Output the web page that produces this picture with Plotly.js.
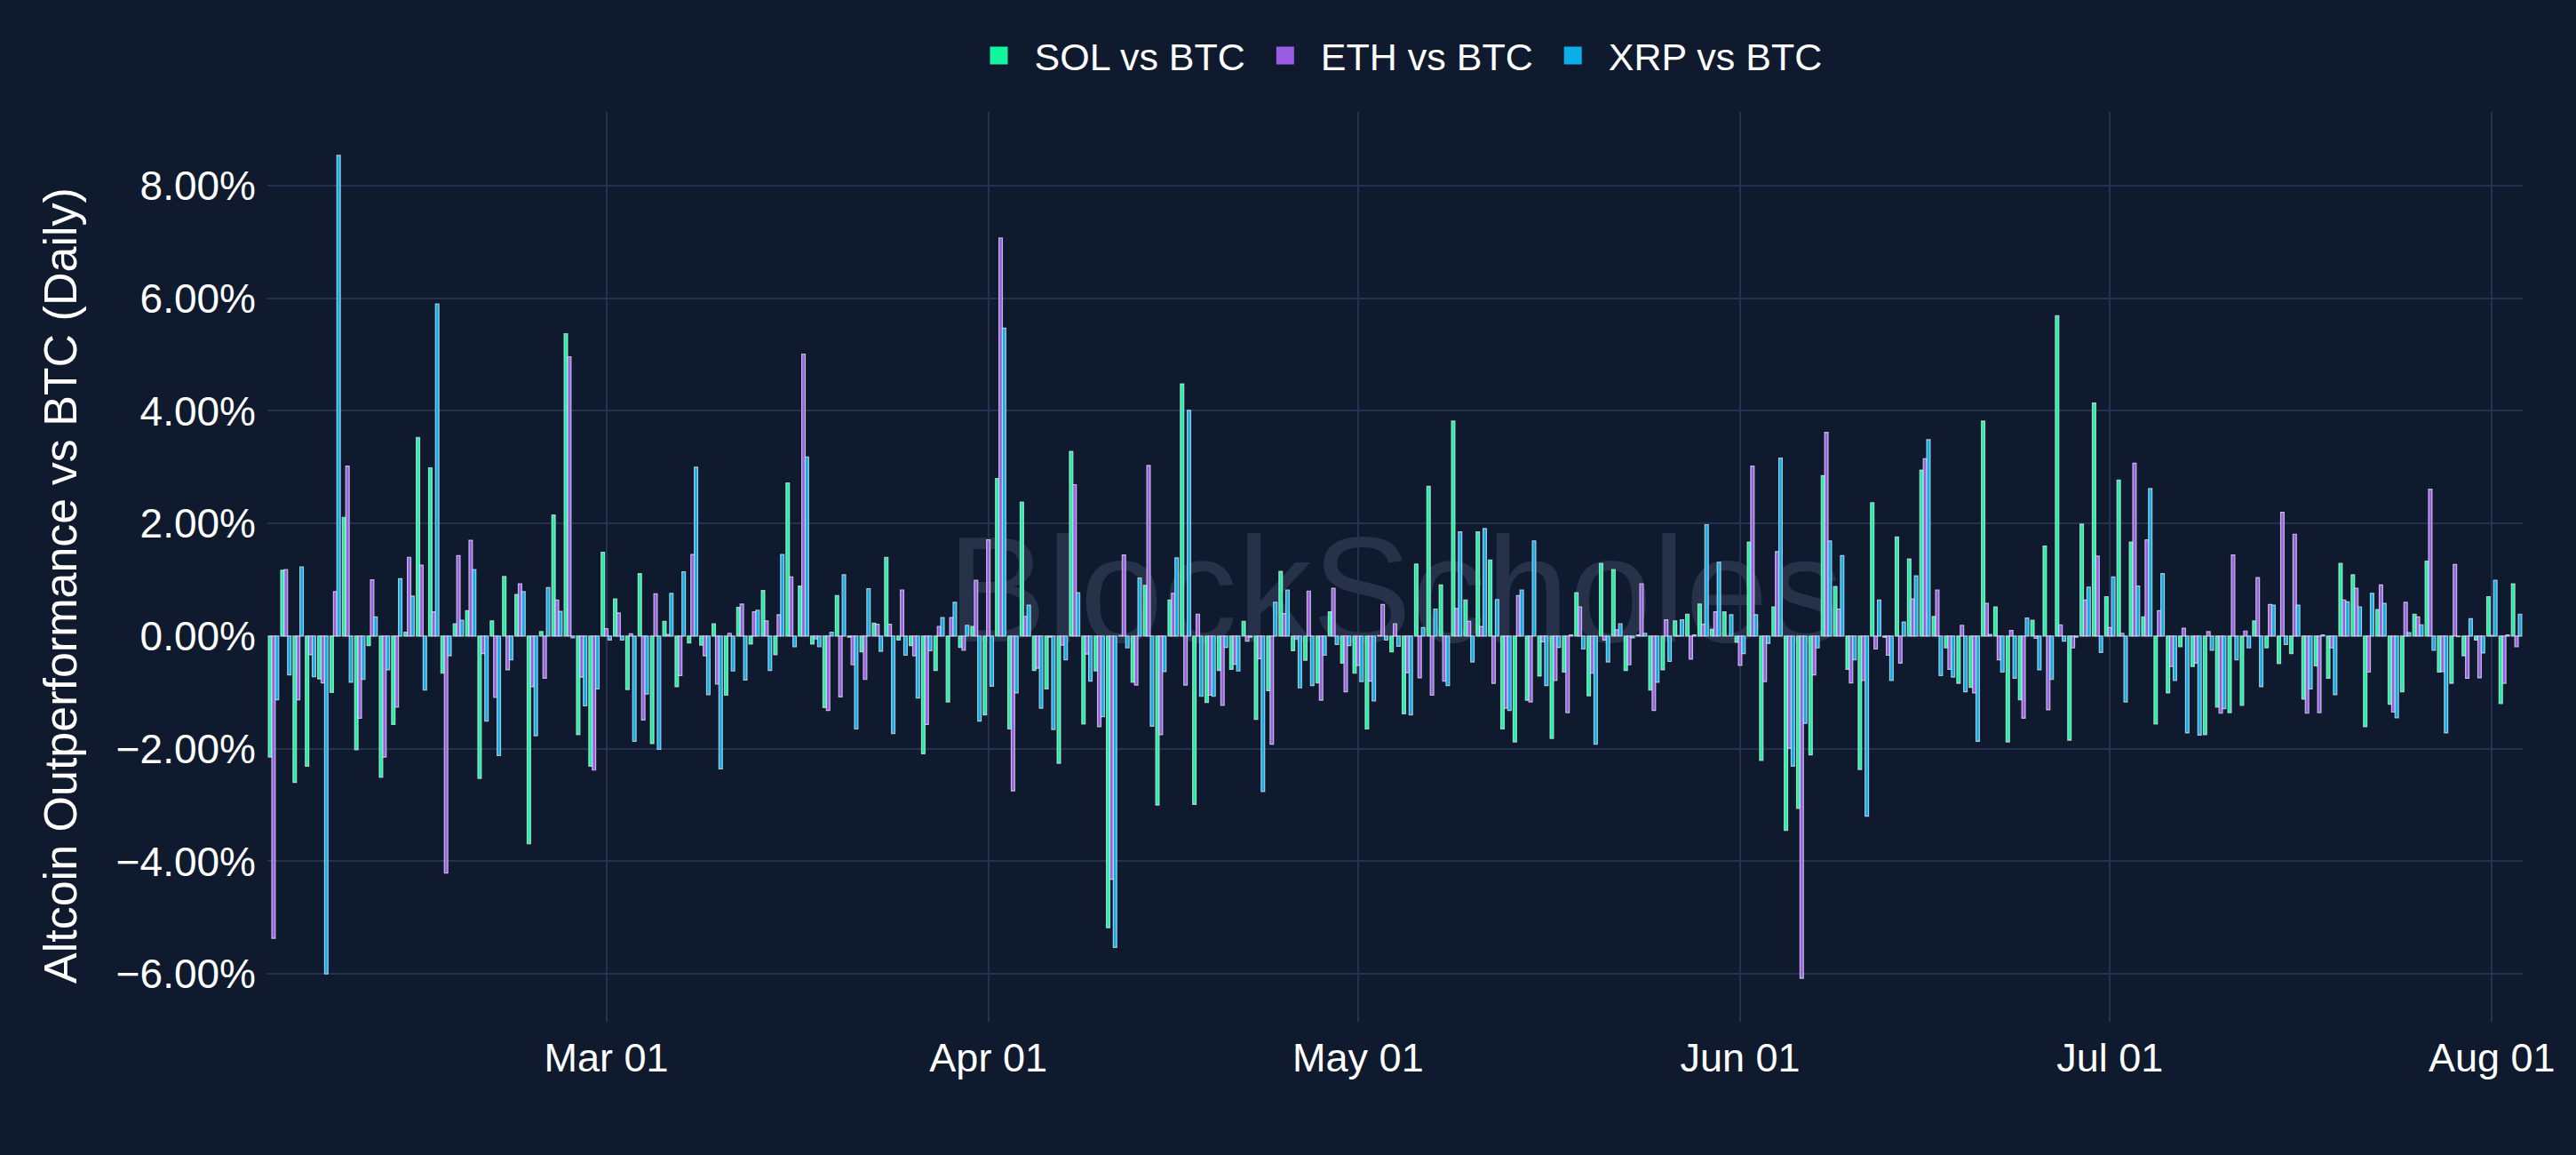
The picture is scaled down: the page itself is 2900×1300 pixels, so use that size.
<!doctype html>
<html>
<head>
    <meta content="text/html;charset=utf-8" http-equiv="Content-Type">
    <title>Altcoin Outperformance vs BTC</title>
    <style>
        html, body {margin: 0; padding: 0; background: #0f1a2e;}
    </style>
    <script src="https://cdn.plot.ly/plotly-3.0.1.min.js"></script>
    <script>
        // ====== DATA (daily outperformance vs BTC, in %) ==================
        let startDay = '2025-02-02';

        let seriesNames = ['SOL vs BTC', 'ETH vs BTC', 'XRP vs BTC'];
        let seriesColors = ['#14f5a0', '#9b5de5', '#0aaee8'];
        let yTitle = 'Altcoin Outperformance vs BTC (Daily)';

        let sol = [
            -2.15, 1.17, -2.60, -2.31, -0.76, -1.00, 2.11, -2.02, -0.17, -2.51, -1.57, 0.07, 3.53, 2.99, -0.66, 0.22,
            0.45, -2.53, 0.27, 1.06, 0.74, -3.69, 0.08, 2.15, 5.37, -1.75, -2.31,
            1.49, 0.66, -0.95, 1.11, -1.91, 0.26, -0.90, -0.12, -0.16, 0.22, -1.05, 0.51, -0.14, 0.81, -0.33, 2.72,
            0.89, -0.14, -1.27, 0.72, -0.02, -0.28, 0.23, 1.40, -0.07, -0.17, -2.09, -0.61, -1.17, -0.20, 0.17,
            -1.40, 2.80, -1.65, 2.38, -0.61, -0.94, -2.26, 3.28, -1.56, -0.62, -5.18, 0.01, -0.82, 0.90, -3.00,
            0.64, 4.48, -2.99, -1.18, -0.61, -0.59, 0.26, -1.48, -0.97, 1.15, -0.26, -0.43, -0.83, 0.43, -0.48,
            -0.66, -1.65, 0.01, -0.28, -1.38, 1.28, 2.66, 0.91, 3.82, 0.64, 1.85, 1.35, -1.65, -1.88, -1.14, -0.71,
            -1.82, -0.64, 0.77, -1.06, 1.29, 1.18, -0.61, 0.02, -0.96, -0.60, 0.27, 0.39, 0.57, 0.12, 0.43,
            -0.11, 1.67, -2.21, 0.52, -3.45, -3.06, -2.11, 2.85, 0.88, -0.59, -2.37, 2.37, -0.02, 1.76, 1.37, 2.95,
            0.35, -0.21, -0.84, -0.91, 3.82, 0.52, -1.88, -1.13, 0.28, 1.60, 5.69, -1.85, 1.99, 4.14,
            0.70, 2.77, 1.67, 0.34, -1.56, -1.01, -0.19, -0.54, -1.75, -1.26, -1.36, -1.23, 0.27, -0.21, -0.49, -0.31,
            -1.12, -0.53, -0.75, 1.29, 1.09, -1.61, 0.47, -1.21, -0.99, 0.39, 1.33, -0.64, -0.84, -0.35, -0.07,
            0.70, -1.20, 0.93
        ];

        let eth = [
            -5.37, 1.18, -1.13, -0.33, -0.83, 0.79, 3.02, -1.46, 1.00, -2.15, -1.26, 1.40, 1.26, 0.43, -4.21, 1.43,
            1.70, -0.31, -1.09, -0.60, 0.93, -0.90, -0.75, 0.64, 4.96, -0.73, -2.38,
            0.13, 0.41, 0.04, -1.49, 0.75, 0.03, -0.70, 1.45, -0.35, -0.85, 0.05, 0.57, 0.43, 0.27, 0.38, 1.05,
            5.01, -0.05, -1.32, -1.08, -0.51, -0.77, 0.21, 0.21, 0.82, -0.35, -1.57, 0.17, 0.33, -0.25, 0.99,
            1.71, 7.07, -2.75, 0.35, -0.57, -0.02, -0.16, 2.69, -0.32, -1.61, -4.32, 1.44, -0.87, 3.03, -1.75,
            0.76, -0.87, 0.39, -1.05, -1.23, -0.50, -0.09, -0.40, -1.92, 0.40, -0.05, 0.80, -1.14, 0.85, -0.99,
            -0.52, -0.80, 0.56, 0.22, -0.65, -0.74, -1.05, -0.80, 0.49, 0.26, 0.17, -0.84, -1.28, 0.72, -1.17, -0.10,
            -0.79, -1.36, 0.52, -0.66, -0.07, 0.11, -0.51, 0.93, -1.32, 0.29, 0.01, -0.41, 0.21, 0.43, 0.00,
            -0.52, 3.02, -0.81, 1.50, -1.99, -6.08, -0.69, 3.62, 0.48, -0.83, -0.79, -0.23, -0.34, -0.48, 0.66, 3.15,
            0.82, -0.59, 0.19, -1.01, 0.58, -0.42, 0.10, -1.46, -0.04, -1.31, 0.20, -0.21, 0.64, 1.42,
            0.15, 0.05, 3.07, 1.71, 0.45, -0.54, 0.14, -0.48, 0.08, -1.37, 1.44, 0.09, 1.04, 0.56, 2.20, 1.81,
            -1.37, -1.36, -0.21, 0.64, 0.85, -0.64, 0.91, -1.35, 0.60, 0.34, 2.61, -0.63, 1.27, -0.75, -0.74,
            0.01, -0.84, -0.19
        ];

        let xrp = [
            -1.13, -0.69, 1.23, -0.72, -6.00, 8.54, -0.82, -0.77, 0.34, -0.60, 1.02, 0.71, -0.96, 5.90, -0.35, 0.28,
            1.18, -1.51, -2.12, -0.42, 0.79, -1.77, 0.86, 0.44, -0.03, -1.24, -0.94,
            -0.07, -0.07, -1.87, -1.03, -2.01, 0.76, 1.14, 3.00, -1.04, -2.36, -0.62, -0.78, 0.46, -0.61, 1.45, -0.19,
            3.18, -0.19, 0.07, 1.09, -1.65, 0.84, -0.27, -1.73, -0.34, -1.10, -0.26, 0.33, 0.60, 0.19, -1.51,
            -0.89, 5.47, -1.01, 0.55, -1.28, -1.66, -0.42, 0.77, -0.80, -1.43, -5.53, -0.21, 1.03, -1.60, -0.63,
            1.39, 4.01, -1.07, -1.07, -0.20, -0.62, -0.02, -2.76, 0.60, 0.82, -0.92, -0.88, -0.34, -0.15, -0.17,
            -0.81, -1.15, -0.07, -0.18, -1.40, 0.15, 0.48, -0.88, 1.85, -0.46, 1.91, 0.65, -1.32, 0.82, 1.69, -0.88,
            -0.20, 0.02, -0.23, -1.92, -0.46, 0.22, -0.03, 0.05, -0.82, -0.45, 0.29, 0.02, 1.98, 1.31, 0.38,
            -0.31, 0.38, -0.13, 3.16, -2.31, -1.55, -0.21, 1.69, 1.43, -0.42, -3.20, 0.64, -0.79, 0.25, 1.07, 3.49,
            -0.70, -0.73, -0.99, -1.87, 0.03, -0.64, -0.75, 0.32, -0.60, -0.77, -0.09, -0.02, 0.87, -0.29,
            1.05, -1.17, 0.89, 2.62, 1.11, -0.79, -1.72, -1.76, -0.25, -1.29, -0.42, -0.21, -0.90, 0.55, -0.15, 0.55,
            -0.94, 0.02, -1.04, 0.61, 0.52, 0.76, 0.58, -1.45, 0.06, 0.20, -0.25, -1.72, -0.01, 0.31, -0.30,
            0.99, 0.02, 0.39
        ];

        function drawChart() {
            // one category per day, starting at startDay
            let days = [];
            let d0 = new Date(startDay + 'T00:00:00Z');
            for (let i = 0; i < sol.length; i++) {
                let d = new Date(d0.getTime() + i * 86400000);
                days.push(d.toISOString().slice(0, 10));
            }

            // ====== SETTINGS ==================================================
            let fontFamily = 'Arial, "Liberation Sans", sans-serif';
            let gridColor = '#233250';
            let edgeColor = 'rgba(225,230,240,0.75)';

            let layout = {
                width: 2900,
                height: 1300,
                paper_bgcolor: '#0f1a2e',
                plot_bgcolor: '#0f1a2e',
                font: {family: fontFamily, color: '#ffffff', size: 44},
                margin: {l: 301, r: 60, t: 126, b: 150},
                barmode: 'group',
                bargap: 0.16,
                bargroupgap: 0,
                showlegend: true,
                legend: {
                    orientation: 'h',
                    x: 0.5,
                    xanchor: 'center',
                    y: 1.062,
                    yanchor: 'middle',
                    itemwidth: 70,
                    itemsizing: 'trace',
                    font: {size: 43, color: '#ffffff'},
                    bgcolor: 'rgba(0,0,0,0)',
                },
                xaxis: {
                    type: 'date',
                    tickformat: '%b %d',
                    dtick: 'M1',
                    tick0: '2025-03-01',
                    showgrid: true,
                    gridcolor: gridColor,
                    gridwidth: 2,
                    zeroline: false,
                    showline: false,
                    ticks: '',
                    ticklabelstandoff: 10,
                    tickfont: {size: 45, color: '#ffffff'},
                },
                yaxis: {
                    range: [-6.85, 9.31],
                    dtick: 2,
                    tick0: 0,
                    tickformat: '.2f',
                    ticksuffix: '%',
                    showgrid: true,
                    gridcolor: gridColor,
                    gridwidth: 2,
                    zeroline: false,
                    showline: false,
                    ticks: '',
                    ticklabelstandoff: 12,
                    tickfont: {size: 46, color: '#ffffff'},
                },
                annotations: [{
                    // y axis title, placed by hand to sit where the original does
                    text: yTitle,
                    xref: 'paper', yref: 'paper',
                    x: 0, y: 0.5,
                    xshift: -233, yshift: -21,
                    xanchor: 'center', yanchor: 'middle',
                    textangle: -90,
                    showarrow: false,
                    font: {size: 52, color: '#ffffff'},
                }],
                shapes: [{
                    // faint watermark behind the bars
                    type: 'rect',
                    xref: 'paper', yref: 'paper',
                    x0: 0.2, x1: 0.8, y0: 0.39, y1: 0.59,
                    layer: 'below',
                    line: {width: 0},
                    fillcolor: 'rgba(0,0,0,0)',
                    label: {
                        text: 'BlockScholes',
                        textposition: 'middle center',
                        font: {size: 168, color: '#263249', family: fontFamily},
                    },
                }],
            };

            let config = {
                'displayModeBar': false,
                'staticPlot': true,
            };

            // ====== PLOT ======================================================
            let values = [sol, eth, xrp];
            let traces = [];
            for (let s = 0; s < values.length; s++) {
                traces.push({
                    type: 'bar',
                    name: seriesNames[s],
                    legendgroup: seriesNames[s],
                    showlegend: false,
                    x: days,
                    y: values[s],
                    marker: {
                        color: seriesColors[s],
                        line: {width: 1.2, color: edgeColor},
                    },
                });
            }
            // legend-only entries so the swatches come out as big squares
            for (let s = 0; s < values.length; s++) {
                traces.push({
                    type: 'scatter',
                    mode: 'markers',
                    name: seriesNames[s],
                    legendgroup: seriesNames[s],
                    x: [null],
                    y: [null],
                    marker: {
                        symbol: 'square',
                        size: 16,
                        color: seriesColors[s],
                        line: {width: 4, color: seriesColors[s]},
                    },
                });
            }

            Plotly.newPlot(document.getElementById('chart'), traces, layout, config);
        }
    </script>
</head>
<body onload="drawChart();">

    <div id="chart"></div>

</body>
</html>
